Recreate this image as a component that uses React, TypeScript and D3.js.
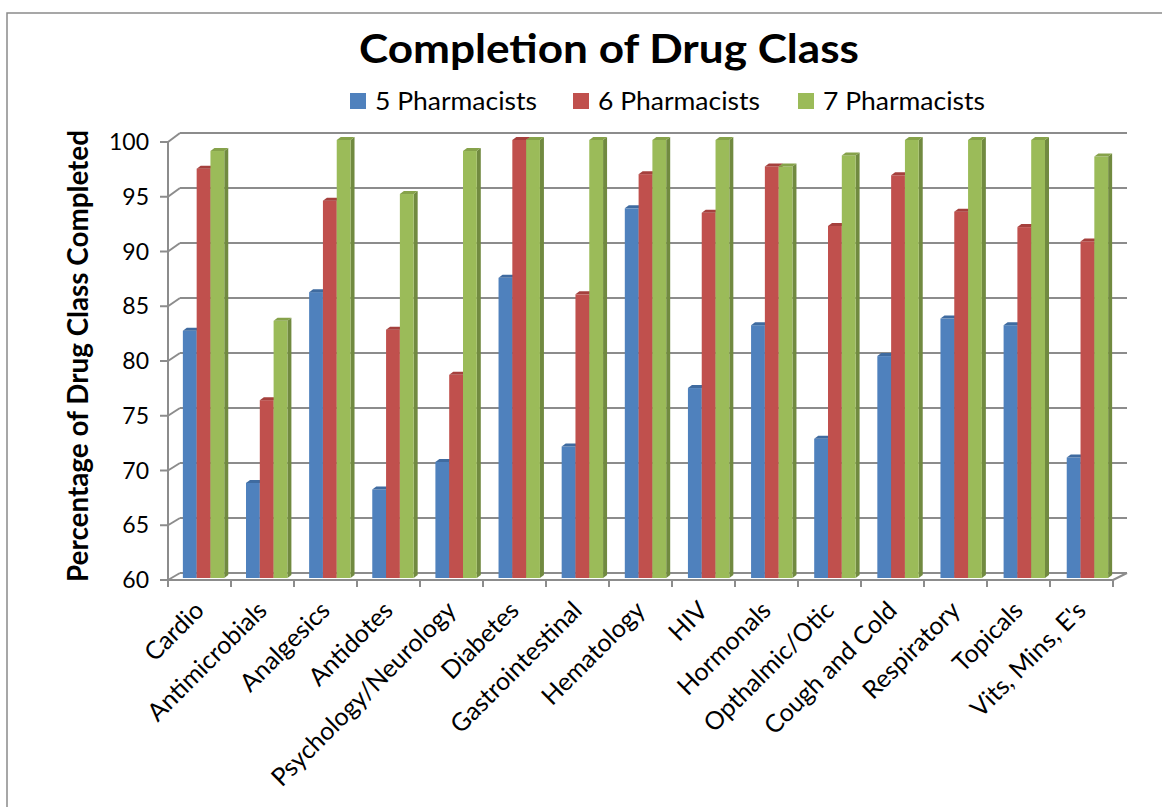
import React, { useEffect, useRef } from 'react';
import * as d3 from 'd3';

const categories = [
  'Cardio', 'Antimicrobials', 'Analgesics', 'Antidotes', 'Psychology/Neurology',
  'Diabetes', 'Gastrointestinal', 'Hematology', 'HIV', 'Hormonals',
  'Opthalmic/Otic', 'Cough and Cold', 'Respiratory', 'Topicals', "Vits, Mins, E's",
];
const seriesNames = ['5 Pharmacists', '6 Pharmacists', '7 Pharmacists'];
const five = [82.7, 68.9, 86.2, 68.3, 70.8, 87.5, 72.2, 93.8, 77.5, 83.2, 72.9, 80.4, 83.8, 83.2, 71.2];
const six = [97.4, 76.4, 94.5, 82.8, 78.7, 100, 86.0, 96.9, 93.4, 97.6, 92.2, 96.8, 93.5, 92.1, 90.8];
const seven = [99.0, 83.6, 100, 95.1, 99.0, 100, 100, 100, 100, 97.6, 98.6, 100, 100, 100, 98.5];
const yTicks = [60, 65, 70, 75, 80, 85, 90, 95, 100];

const front = ['#4F81BD', '#C0504D', '#9BBB59'];
const side = ['#3A6192', '#8E3A38', '#718A40'];
const top = ['#3F6BA0', '#A5403D', '#86A24A'];

const FONT = 'Lato, "Open Sans", sans-serif';

const App = () => {
  const ref = useRef<SVGSVGElement>(null);

  useEffect(() => {
    const svg = d3.select(ref.current);
    svg.selectAll('*').remove();

    const values = [five, six, seven];

    // chart frame
    svg.append('rect')
      .attr('x', 7).attr('y', 13).attr('width', 1300).attr('height', 1000)
      .attr('fill', 'white').attr('stroke', '#8a8a8a').attr('stroke-width', 1.5);

    // title
    svg.append('text')
      .attr('x', 609).attr('y', 63)
      .attr('text-anchor', 'middle')
      .attr('textLength', 500).attr('lengthAdjust', 'spacingAndGlyphs')
      .style('font-family', FONT).style('font-weight', 'bold').style('font-size', '41px')
      .text('Completion of Drug Class');

    // legend
    const legendX = [350, 573, 798];
    seriesNames.forEach((name, i) => {
      svg.append('rect')
        .attr('x', legendX[i]).attr('y', 93).attr('width', 16).attr('height', 16)
        .attr('fill', front[i]);
      svg.append('text')
        .attr('x', legendX[i] + 25).attr('y', 110)
        .attr('textLength', 162).attr('lengthAdjust', 'spacingAndGlyphs')
        .style('font-family', FONT).style('font-size', '25px')
        .text(name);
    });

    // scales
    const yFront = d3.scaleLinear().domain([60, 100]).range([580, 142]);
    const yBack = d3.scaleLinear().domain([60, 100]).range([573, 133]);
    const yBar = d3.scaleLinear().domain([60, 100]).range([578, 137]);
    const xFront = d3.scaleBand().domain(categories).range([168, 1113]);
    const xBar = d3.scaleBand().domain(categories).range([172, 1119]);
    const barW = 13.8;
    const xSeries = d3.scaleBand().domain(seriesNames).range([0, barW * 3]);
    const dx = 4, dy = 3;
    const backL = 180, backR = 1127;

    // back wall gridlines + side wall connectors
    const grid = svg.append('g').attr('stroke', '#8c8c8c').attr('stroke-width', 2).attr('fill', 'none');
    yTicks.forEach(t => {
      grid.append('line')
        .attr('x1', backL).attr('x2', backR)
        .attr('y1', yBack(t)).attr('y2', yBack(t));
      grid.append('line')
        .attr('x1', 168).attr('y1', yFront(t))
        .attr('x2', backL).attr('y2', yBack(t));
      grid.append('line')
        .attr('x1', 160).attr('x2', 168)
        .attr('y1', yFront(t)).attr('y2', yFront(t));
    });
    // floor
    grid.append('line').attr('x1', 168).attr('x2', 1113).attr('y1', 580).attr('y2', 580);
    grid.append('line').attr('x1', 1113).attr('y1', 580).attr('x2', backR).attr('y2', yBack(60));
    // front vertical axis
    grid.append('line').attr('x1', 168).attr('x2', 168).attr('y1', yFront(100)).attr('y2', 580);
    // category ticks
    [...categories.map(c => xFront(c) as number), 1113].forEach(x => {
      grid.append('line').attr('x1', x).attr('x2', x).attr('y1', 580).attr('y2', 587);
    });

    // y tick labels
    svg.append('g').selectAll('text').data(yTicks).enter().append('text')
      .attr('x', 149).attr('y', d => yFront(d))
      .attr('dy', '0.35em').attr('text-anchor', 'end')
      .style('font-family', FONT).style('font-size', '23px')
      .text(d => d);

    // y axis title
    svg.append('text')
      .attr('transform', 'translate(88,356) rotate(-90)')
      .attr('text-anchor', 'middle')
      .attr('textLength', 452).attr('lengthAdjust', 'spacingAndGlyphs')
      .style('font-family', FONT).style('font-weight', 'bold').style('font-size', '28px')
      .text('Percentage of Drug Class Completed');

    // 3D bars
    const bars = svg.append('g');
    categories.forEach((c, ci) => {
      const gx = (xBar(c) as number) + xBar.bandwidth() / 2 - (barW * 3) / 2;
      seriesNames.forEach((s, si) => {
        const v = values[si][ci];
        const x0 = gx + (xSeries(s) as number);
        const yt = yBar(v);
        const yb = yBar(60);
        // side face
        bars.append('path')
          .attr('d', `M${x0 + barW},${yt + dy}L${x0 + barW + dx},${yt}L${x0 + barW + dx},${yb - dy}L${x0 + barW},${yb}Z`)
          .attr('fill', side[si]);
        // front face
        bars.append('rect')
          .attr('x', x0).attr('y', yt + dy)
          .attr('width', barW).attr('height', yb - yt - dy)
          .attr('fill', front[si]);
        // top cap
        bars.append('path')
          .attr('d', `M${x0},${yt + dy}L${x0 + dx},${yt}L${x0 + barW + dx},${yt}L${x0 + barW},${yt + dy}Z`)
          .attr('fill', top[si]);
      });
    });

    // category labels
    svg.append('g').selectAll('text').data(categories).enter().append('text')
      .attr('transform', d => `translate(${(xFront(d) as number) + xFront.bandwidth() / 2 + 6},612) rotate(-45)`)
      .attr('text-anchor', 'end')
      .style('font-family', FONT).style('font-size', '25px')
      .text(d => d);
  }, []);

  return (
    <svg ref={ref} width={1162} height={807}
      style={{ position: 'absolute', left: 0, top: 0, background: 'white' }} />
  );
};

export default App;
